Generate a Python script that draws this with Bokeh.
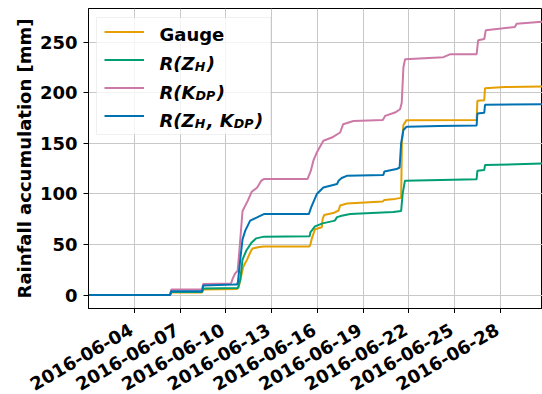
import math
import pandas as pd
from bokeh.plotting import figure
from bokeh.layouts import column
from bokeh.core.properties import value
from bokeh.models import Range1d, FixedTicker, Legend, LegendItem, Label, BoxAnnotation
from bokeh.embed import file_html
from bokeh.resources import INLINE

# ---------------- data ----------------
t0 = pd.Timestamp("2016-06-01 00:00")

gauge_days = [0, 5.35, 5.42, 7.45, 7.52, 9.75, 9.85, 10.0, 10.15, 10.4, 10.6, 10.75, 11.2, 11.5,
              14.5, 14.55, 14.65, 14.85, 15.3, 15.35, 15.45, 16.05, 16.4, 16.5, 16.95, 19.3, 19.4,
              20.1, 20.5, 20.55, 20.65, 20.85, 25.45, 25.5, 25.95, 26.0, 27.3, 29.8]
gauge_vals = [0, 0, 2.5, 2.5, 5.5, 6, 8, 18, 28, 35, 42, 46, 47.5, 48,
              48, 50, 56, 65, 67, 75, 79, 81, 83.5, 88.5, 90.5, 92.5, 94,
              95, 96, 150, 168, 172.8, 173, 192, 192.5, 204.3, 205.5, 206]

zh_days = [0, 5.35, 5.42, 7.45, 7.52, 9.8, 9.95, 10.1, 10.35, 10.7, 11.0, 11.5,
           14.5, 14.55, 14.85, 15.35, 16.15, 16.3, 16.6, 17.16, 19.99, 20.5, 20.6, 20.75,
           25.45, 25.5, 25.95, 26.0, 29.8]
zh_vals = [0, 0, 3, 3, 6.5, 7, 15, 35, 44, 52, 56, 57.7,
           58, 62, 67.9, 70.8, 73.5, 77, 78.4, 80, 82, 83, 100, 113,
           114.5, 122.8, 123.5, 128.4, 130]

kdp_days = [0, 5.35, 5.42, 7.45, 7.52, 9.35, 9.45, 9.6, 9.78, 9.9, 10.1, 10.44, 10.7, 11.05,
            11.33, 11.5, 14.36, 14.58, 14.75, 14.97, 15.4, 15.96, 16.5, 16.7, 17.37, 19.3,
            19.45, 20.1, 20.43, 20.54, 20.65, 20.76, 23.27, 23.7, 25.45, 25.55, 25.95, 26.05,
            27.96, 28.07, 29.8]
kdp_vals = [0, 0, 5.4, 5.4, 11, 11.5, 16, 21, 24, 45, 83, 93, 102, 106,
            113, 114.6, 114.6, 122.8, 133, 140.8, 152.4, 155.6, 160.6, 168.8, 172, 173,
            177, 180.3, 183.6, 190, 225, 233, 235, 237.8, 238, 251.7, 253, 261.5,
            264.8, 268, 270]

zhkdp_days = [0, 5.35, 5.42, 7.45, 7.52, 9.5, 9.75, 9.8, 9.95, 10.1, 10.28, 10.6, 11.05, 11.5,
              14.45, 14.6, 14.97, 15.4, 16.3, 16.4, 16.6, 16.94, 19.33, 19.4, 20.2, 20.4,
              20.5, 20.65, 20.86, 23.0, 25.45, 25.5, 25.95, 26.0, 29.8]
zhkdp_vals = [0, 0, 3.7, 3.7, 9.4, 10.3, 10.5, 13, 35, 55, 63.6, 73.5, 76.7, 80,
              80, 86.6, 99.8, 106.3, 109.7, 113, 115.6, 117.8, 118.5, 122, 124.5, 126,
              150, 163, 166.2, 167, 167.5, 179.3, 180, 187.9, 188.5]

x_tick_labels = ["2016-06-04", "2016-06-07", "2016-06-10", "2016-06-13", "2016-06-16",
                 "2016-06-19", "2016-06-22", "2016-06-25", "2016-06-28"]
y_ticks = [0, 50, 100, 150, 200, 250]

colors = {"gauge": "#E69F00", "zh": "#009E73", "kdp": "#CC79A7", "zhkdp": "#0072B2"}

# ---------------- layout constants ----------------
FONT = "DejaVu Sans"
W_TOTAL, H_TOTAL = 542, 394
LEFT, TOP, FRAME_W, FRAME_H, TICK = 88, 8, 454, 300, 5
SPAN_DAYS = 29.77
Y0, Y1 = -13.3, 283.1
FRAME_BOTTOM = TOP + FRAME_H
H1 = TOP + FRAME_H + TICK
H2 = H_TOTAL - H1

def to_dt(days):
    return [t0 + pd.Timedelta(days=d) for d in days]

def ms(ts):
    return pd.Timestamp(ts).value / 1e6

x_start, x_end = ms(t0), ms(t0 + pd.Timedelta(days=SPAN_DAYS))
ms_per_px = (x_end - x_start) / FRAME_W

def px_to_ms(px):
    return x_start + (px - LEFT) * ms_per_px

def py_to_val(py):
    return Y1 - (py - TOP) * (Y1 - Y0) / FRAME_H

# ---------------- main plot ----------------
p = figure(width=W_TOTAL, height=H1, x_axis_type="datetime",
           output_backend="svg", toolbar_location=None,
           min_border_left=LEFT, min_border_right=0, min_border_top=TOP, min_border_bottom=TICK,
           x_range=Range1d(x_start, x_end), y_range=Range1d(Y0, Y1))
p.frame_align = False

p.outline_line_color = "black"
p.outline_line_width = 1
p.background_fill_color = "white"
p.border_fill_color = "white"

tick_ms = [ms(s) for s in x_tick_labels]
p.xaxis.ticker = FixedTicker(ticks=tick_ms)
p.xaxis.major_label_overrides = {t: "" for t in tick_ms}
p.xaxis.major_tick_out = TICK
p.xaxis.major_tick_in = 0
p.xaxis.minor_tick_out = 0
p.xaxis.minor_tick_in = 0
p.xaxis.axis_line_color = "black"

p.yaxis.ticker = FixedTicker(ticks=y_ticks)
p.yaxis.major_tick_out = TICK
p.yaxis.major_tick_in = 0
p.yaxis.minor_tick_out = 0
p.yaxis.minor_tick_in = 0
p.yaxis.major_label_standoff = 6
p.yaxis.major_label_text_font = FONT
p.yaxis.major_label_text_font_style = "bold"
p.yaxis.major_label_text_font_size = "18px"
p.yaxis.major_label_text_color = "black"
p.yaxis.axis_label = "Rainfall accumulation [mm]"
p.yaxis.axis_label_text_font = FONT
p.yaxis.axis_label_text_font_style = "bold"
p.yaxis.axis_label_text_font_size = "18px"
p.yaxis.axis_label_text_color = "black"
p.yaxis.axis_label_standoff = 2
p.yaxis.axis_line_color = "black"

p.xgrid.grid_line_color = "#c8c8c8"
p.ygrid.grid_line_color = "#c8c8c8"
p.xgrid.grid_line_width = 1
p.ygrid.grid_line_width = 1

# legend background box (data units derived from the pixel layout)
p.add_layout(BoxAnnotation(left=px_to_ms(96), right=px_to_ms(270),
                           top=py_to_val(17), bottom=py_to_val(134),
                           fill_color="white", fill_alpha=0.8,
                           line_color="#cccccc", line_width=1, level="underlay"))

r_g = p.line(to_dt(gauge_days), gauge_vals, line_color=colors["gauge"], line_width=2)
r_z = p.line(to_dt(zh_days), zh_vals, line_color=colors["zh"], line_width=2)
r_k = p.line(to_dt(kdp_days), kdp_vals, line_color=colors["kdp"], line_width=2)
r_zk = p.line(to_dt(zhkdp_days), zhkdp_vals, line_color=colors["zhkdp"], line_width=2)

# legend handles
legend = Legend(items=[LegendItem(label=" ", renderers=[r]) for r in (r_g, r_z, r_k, r_zk)],
                location="top_left", margin=16, padding=8, spacing=13,
                glyph_width=40, glyph_height=15, label_height=15, label_width=95,
                label_standoff=15, border_line_color=None,
                background_fill_alpha=0.0, label_text_font_size="1px")
p.add_layout(legend)

# legend texts with subscripts (screen coords relative to frame bottom-left)
MAIN, SUB = 18.0, 12.6
W = {"R": 0.770, "(": 0.457, ")": 0.457, "Z": 0.725, "H": 0.837, "K": 0.775,
     "D": 0.830, "P": 0.733, ",": 0.380, " ": 0.348}

def width(s, size):
    return sum(W[c] for c in s) * size

legend_rows = [
    [("Gauge", "main")],
    [("R(Z", "main"), ("H", "sub"), (")", "main")],
    [("R(K", "main"), ("DP", "sub"), (")", "main")],
    [("R(Z", "main"), ("H", "sub"), (", K", "main"), ("DP", "sub"), (")", "main")],
]
row_baselines = [40, 69.3, 97.7, 126]

for row, base in zip(legend_rows, row_baselines):
    x = 159.0
    for txt, kind in row:
        upright = (txt == "Gauge")
        if kind == "main":
            size, ymid = MAIN, base - 6.2
        else:
            size, ymid = SUB, base + 1.5 - 4.4
        p.add_layout(Label(x=x - LEFT, y=FRAME_BOTTOM - ymid, x_units="screen", y_units="screen",
                           text=txt, text_align="left", text_baseline="middle",
                           text_font=FONT,
                           text_font_style="bold" if upright else "bold italic",
                           text_font_size=f"{size}px", text_color="black", level="overlay"))
        if not upright:
            x += width(txt, size) + (1.5 if kind == "sub" else 0)

# ---------------- strip with the rotated date tick labels ----------------
p2 = figure(width=W_TOTAL, height=H2, output_backend="svg", toolbar_location=None,
            x_axis_location=None, y_axis_location=None,
            min_border_left=0, min_border_right=0, min_border_top=0, min_border_bottom=0,
            x_range=Range1d(px_to_ms(0), x_end), y_range=Range1d(0, H2))
p2.frame_align = False
p2.outline_line_color = None
p2.grid.visible = False
p2.background_fill_color = "white"
p2.border_fill_color = "white"

label_anchor_y = H_TOTAL - 327.5   # distance from the strip's bottom
p2.text(x=tick_ms, y=label_anchor_y, text=x_tick_labels, angle=math.pi / 6,
        text_align="right", text_baseline="middle", x_offset=-3,
        text_font=value(FONT), text_font_style="bold", text_font_size="18px",
        text_color="black")

root = column(p, p2, spacing=0)
open("out.html", "w").write(file_html(root, INLINE))
